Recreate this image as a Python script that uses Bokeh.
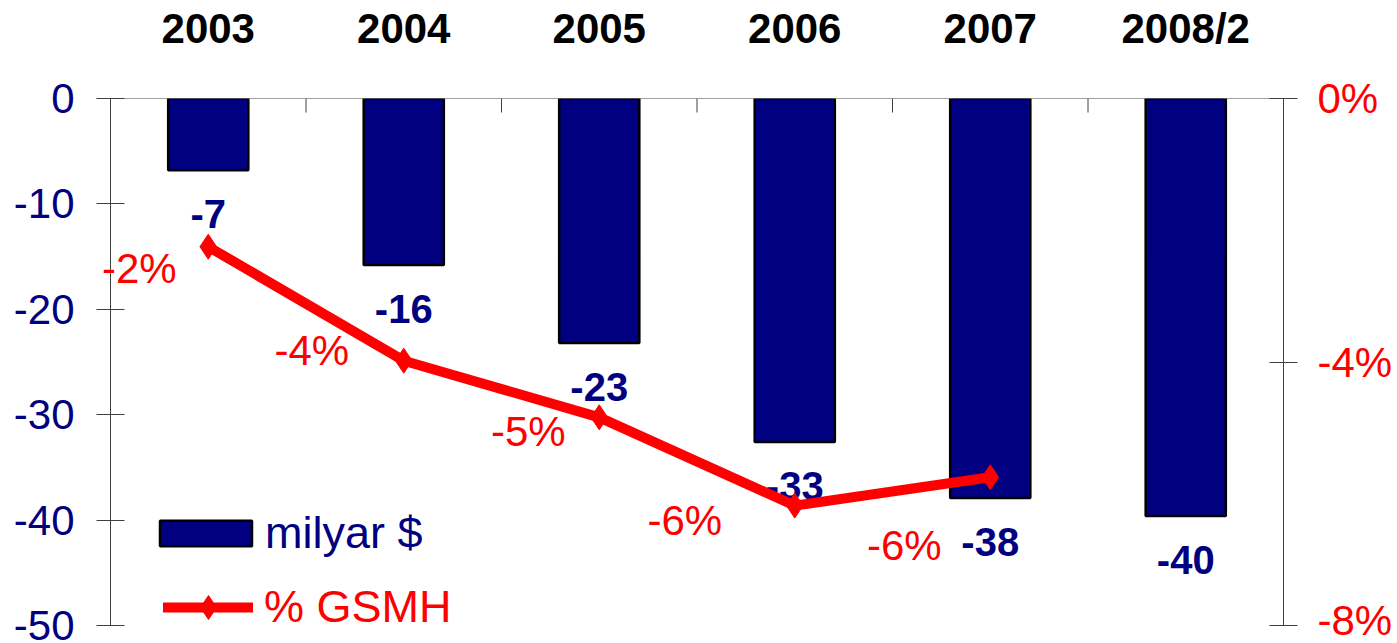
from bokeh.plotting import figure
from bokeh.models import (Range1d, LinearAxis, FixedTicker, CustomJSTickFormatter,
                          Span, ColumnDataSource, Legend, LegendItem)
from bokeh.core.properties import value
from bokeh.embed import file_html
from bokeh.resources import INLINE

# ---- data ----
categories = ["2003", "2004", "2005", "2006", "2007", "2008/2"]
deficit_bn = [-6.8, -15.8, -23.2, -32.6, -37.9, -39.6]      # milyar $
pct_gnp = [-2.25, -3.98, -4.84, -6.18, -5.75]                # % GSMH (2003-2007)
left_ticks = [-50, -40, -30, -20, -10, 0]
right_ticks = [-8, -4, 0]

# label placement (screen px offsets for the % labels)
pct_label_dx = [-69, -92, -71, -110, -86]
pct_label_dy = [22, -10, 14, 15, 68]

NAVY = "#000080"
RED = "#FF0000"
FONT = "Liberation Sans"
AXIS_COL = "#404040"

xs = [i + 0.5 for i in range(len(categories))]

p = figure(width=1397, height=643, output_backend="svg", toolbar_location=None,
           x_range=Range1d(0, len(categories)), y_range=Range1d(-50, 0),
           min_border_left=110, min_border_right=114, min_border_top=98, min_border_bottom=18,
           x_axis_location=None, y_axis_location=None)
p.outline_line_color = None
p.grid.visible = False
p.background_fill_color = "white"
p.border_fill_color = "white"
p.extra_y_ranges = {"pct": Range1d(-8, 0)}

# left axis
la = LinearAxis(ticker=FixedTicker(ticks=left_ticks),
                formatter=CustomJSTickFormatter(code="return String(Math.round(tick));"))
la.axis_line_color = AXIS_COL
la.major_tick_line_color = AXIS_COL
la.major_tick_in = 14
la.major_tick_out = 14
la.minor_tick_line_color = None
la.major_label_text_color = NAVY
la.major_label_text_font = FONT
la.major_label_text_font_size = "42px"
la.major_label_standoff = 22
la.axis_label_standoff = 0
p.add_layout(la, "left")

# right axis
ra = LinearAxis(y_range_name="pct", ticker=FixedTicker(ticks=right_ticks),
                formatter=CustomJSTickFormatter(code="return String(Math.round(tick)) + '%';"))
ra.axis_line_color = AXIS_COL
ra.major_tick_line_color = AXIS_COL
ra.major_tick_in = 14
ra.major_tick_out = 14
ra.minor_tick_line_color = None
ra.major_label_text_color = RED
ra.major_label_text_font = FONT
ra.major_label_text_font_size = "42px"
ra.major_label_standoff = 20
ra.axis_label_standoff = 0
p.add_layout(ra, "right")

# top category axis (labels only)
ta = LinearAxis(ticker=FixedTicker(ticks=xs),
                formatter=CustomJSTickFormatter(args=dict(cats=categories),
                                                code="return cats[Math.floor(tick)];"))
ta.axis_line_color = None
ta.major_tick_line_color = None
ta.minor_tick_line_color = None
ta.major_tick_in = 0
ta.major_tick_out = 0
ta.major_label_text_color = "black"
ta.major_label_text_font = FONT
ta.major_label_text_font_style = "bold"
ta.major_label_text_font_size = "42px"
ta.major_label_standoff = 47
ta.axis_label_standoff = 0
p.add_layout(ta, "above")

# zero line
p.add_layout(Span(location=0, dimension="width", line_color=AXIS_COL, line_width=1))

# category boundary ticks hanging from the zero line
bounds = list(range(1, len(categories)))
p.segment(x0=bounds, y0=[0] * len(bounds), x1=bounds, y1=[-1.33] * len(bounds),
          line_color=AXIS_COL, line_width=1)

# bars
bar_src = ColumnDataSource(dict(x=xs, top=deficit_bn,
                                lab=[str(round(v)) for v in deficit_bn]))
bars = p.vbar(x="x", top="top", bottom=0, width=0.41, source=bar_src,
              fill_color=NAVY, line_color="black", line_width=2.5)

p.text(x="x", y="top", text="lab", source=bar_src, y_offset=44,
       text_align="center", text_baseline="middle", text_color=NAVY,
       text_font=value(FONT), text_font_style="bold", text_font_size="40px")

# line
line_src = ColumnDataSource(dict(x=xs[:len(pct_gnp)], y=pct_gnp,
                                 lab=[f"{round(v)}%" for v in pct_gnp],
                                 dx=pct_label_dx, dy=pct_label_dy))
ln = p.line(x="x", y="y", source=line_src, y_range_name="pct",
            line_color=RED, line_width=10, line_cap="round")
mk = p.scatter(x="x", y="y", source=line_src, y_range_name="pct", marker="diamond",
               size=25, fill_color=RED, line_color=RED)

pl = p.text(x="x", y="y", text="lab", source=line_src, y_range_name="pct",
            x_offset="dx", y_offset="dy", text_align="center", text_baseline="middle",
            text_color=RED, text_font=value(FONT), text_font_size="42px")
pl.level = "overlay"

# legends
leg1 = Legend(items=[LegendItem(label="milyar $", renderers=[bars])],
              location=(38, 66), glyph_width=115, glyph_height=32,
              label_standoff=2, padding=0, margin=0, spacing=0,
              background_fill_alpha=0, border_line_color=None,
              label_text_color=NAVY, label_text_font=FONT, label_text_font_size="45px")
leg2 = Legend(items=[LegendItem(label="% GSMH", renderers=[ln, mk])],
              location=(53, -12), glyph_width=90, glyph_height=60,
              label_standoff=11, padding=0, margin=0, spacing=0,
              background_fill_alpha=0, border_line_color=None,
              label_text_color=RED, label_text_font=FONT, label_text_font_size="45px")
p.add_layout(leg1)
p.add_layout(leg2)

open("out.html", "w").write(file_html(p, INLINE))
